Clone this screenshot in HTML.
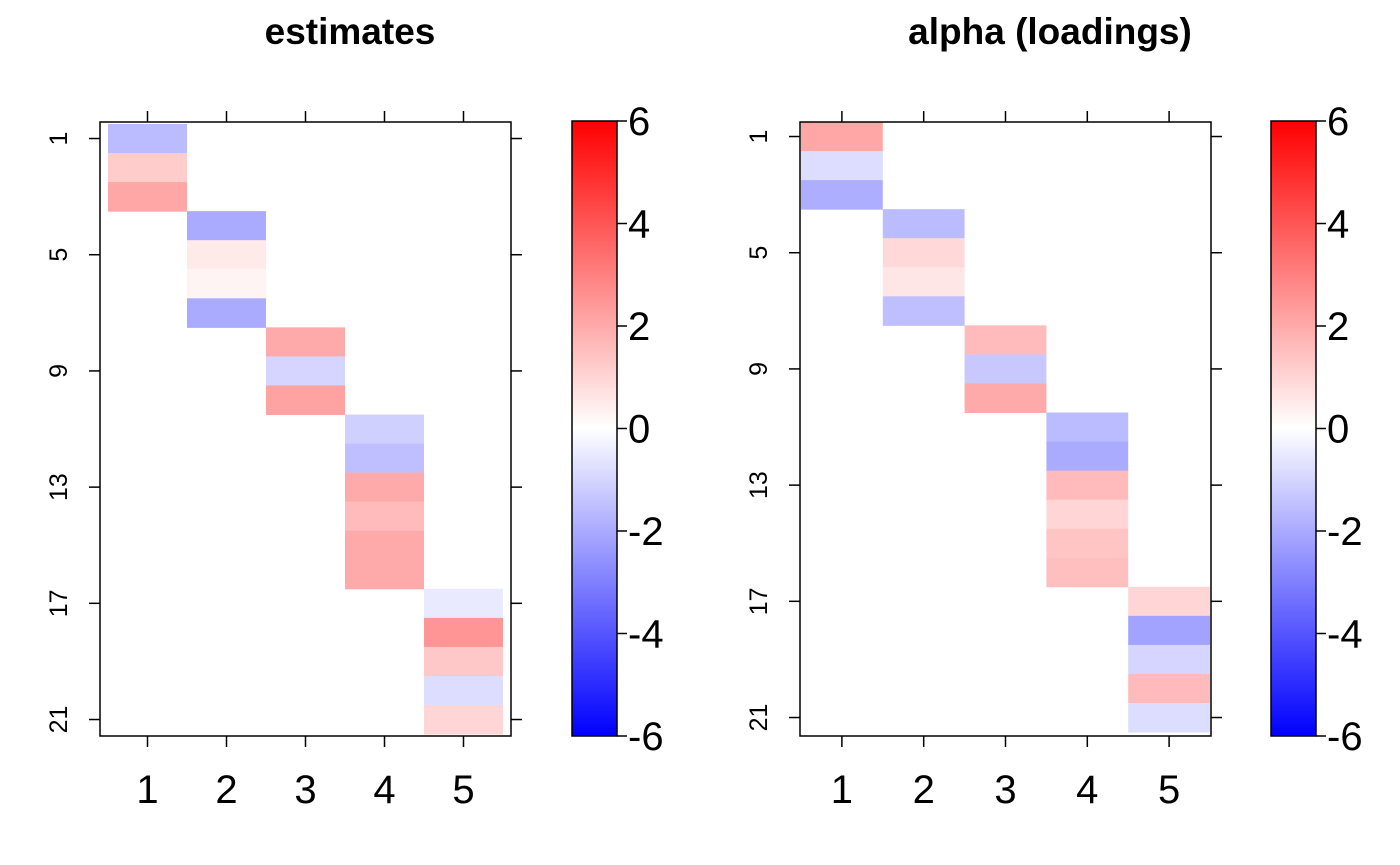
<!DOCTYPE html>
<html><head><meta charset="utf-8"><style>
html,body{margin:0;padding:0;background:#fff}
svg{display:block;font-family:"Liberation Sans",sans-serif}
</style></head><body>
<svg id="c" width="1400" height="865" xmlns="http://www.w3.org/2000/svg">
<defs><linearGradient id="g" x1="0" y1="1" x2="0" y2="0">
<stop offset="0" stop-color="#0000ff"/><stop offset="0.5" stop-color="#ffffff"/><stop offset="1" stop-color="#ff0000"/></linearGradient></defs>
</svg>
<script>
const cols = [1,2,3,4,5];
const rowLabels = [1,5,9,13,17,21];
const barTicks = [6,4,2,0,-2,-4,-6];
const estCol = [1,1,1,2,2,2,2,3,3,3,4,4,4,4,4,4,5,5,5,5,5];
const estVals = [-1.6,1.2,2.1,-2.0,0.5,0.25,-2.0,2.0,-1.0,2.2,-1.1,-1.5,2.0,1.6,2.0,2.0,-0.5,2.5,1.3,-0.8,1.0];
const alphaVals = [2.1,-0.8,-1.9,-1.6,0.9,0.6,-1.5,1.6,-1.3,2.0,-1.6,-2.0,1.6,1.0,1.4,1.5,1.0,-2.2,-1.0,1.6,-0.8];
const svg = document.getElementById('c');
const NS = 'http://www.w3.org/2000/svg';
function mk(t, a, txt){const e=document.createElementNS(NS,t);for(const k in a)e.setAttribute(k,a[k]);if(txt!==undefined)e.textContent=txt;svg.appendChild(e);return e;}
function color(v){const t=Math.max(-1,Math.min(1,v/6));let r=255,g=255,b=255;if(t>0){g=b=Math.round(255*(1-t));}else{r=g=Math.round(255*(1+t));}return `rgb(${r},${g},${b})`;}
function panel(p){
  const xS=c=>p.cx0+(c-0.5)*p.cw;
  const yS=r=>p.ry0+(r-0.5)*p.rh;
  const t=mk('text',{x:p.tx,y:44,'text-anchor':'middle','font-size':37,'font-weight':'bold'},p.title);
  
  p.vals.forEach((v,i)=>{const r=i+1,c=estCol[i];
    const e=mk('rect',{x:xS(c)-p.cw/2,y:yS(r)-p.rh/2,width:p.cw,height:p.rh+0.5,fill:color(v)});
    });
  const box=mk('rect',{x:p.bx0,y:p.by0,width:p.bx1-p.bx0,height:p.by1-p.by0,fill:'none',stroke:'#000','stroke-width':1.5});
  
  cols.forEach(c=>{const x=xS(c);
    mk('line',{x1:x,x2:x,y1:p.by1,y2:p.by1+11,stroke:'#000','stroke-width':1.5});
    mk('line',{x1:x,x2:x,y1:p.by0,y2:p.by0-11,stroke:'#000','stroke-width':1.5});
    const l=mk('text',{x:x,y:p.by1+67,'text-anchor':'middle','font-size':40},c);
    });
  rowLabels.forEach(r=>{const y=yS(r);
    mk('line',{x1:p.bx0,x2:p.bx0-11,y1:y,y2:y,stroke:'#000','stroke-width':1.5});
    mk('line',{x1:p.bx1,x2:p.bx1+11,y1:y,y2:y,stroke:'#000','stroke-width':1.5});
    const l=mk('text',{x:0,y:0,'text-anchor':'middle','font-size':25,transform:`translate(${p.bx0-33},${y}) rotate(-90)`},r);
    });
  const cb=mk('rect',{x:p.cbx,y:121,width:45,height:615,fill:'url(#g)',stroke:'#000','stroke-width':1.5});
  
  barTicks.forEach(v=>{const y=121+(6-v)/12*615;
    mk('line',{x1:p.cbx+45,x2:p.cbx+55,y1:y,y2:y,stroke:'#000','stroke-width':1.5});
    const l=mk('text',{x:p.cbx+56,y:y+14,'font-size':40},v);
    });
}
panel({id:'estimates',title:'estimates',tx:350,vals:estVals,cx0:108,cw:79,ry0:124,rh:29.05,bx0:100,bx1:511,by0:122,by1:736,cbx:572});
panel({id:'alpha',title:'alpha (loadings)',tx:1050,vals:alphaVals,cx0:801,cw:81.8,ry0:122,rh:29.05,bx0:800,bx1:1211,by0:122,by1:736,cbx:1271});
</script>
</body></html>
